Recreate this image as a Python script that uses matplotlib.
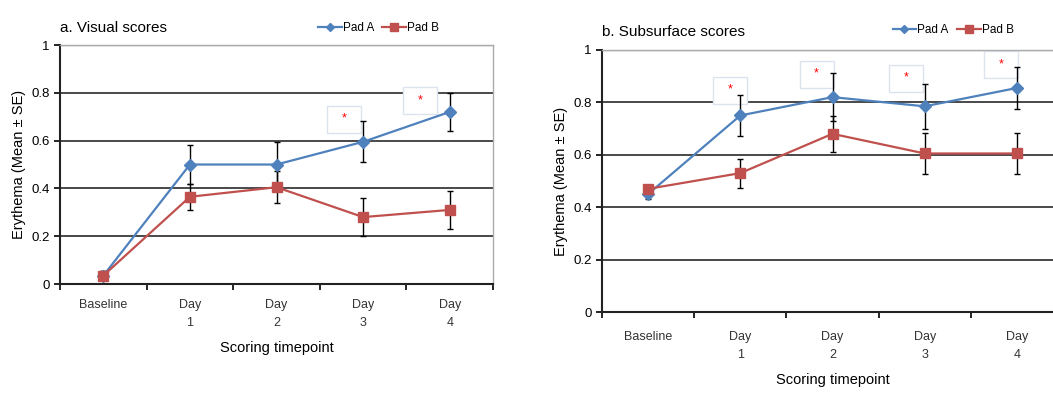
import matplotlib.pyplot as plt
import numpy as np

plt.rcParams['font.family'] = ['Liberation Sans', 'DejaVu Sans']

timepoints = ['Baseline', 'Day\n1', 'Day\n2', 'Day\n3', 'Day\n4']

# a. Visual scores
visual_a = [0.035, 0.50, 0.50, 0.595, 0.72]
visual_a_se = [0.02, 0.08, 0.095, 0.085, 0.08]
visual_b = [0.035, 0.365, 0.405, 0.28, 0.31]
visual_b_se = [0.02, 0.055, 0.068, 0.08, 0.078]
visual_stars = [(2.78, 0.69), (3.66, 0.766)]

# b. Subsurface scores
sub_a = [0.45, 0.75, 0.82, 0.785, 0.855]
sub_a_se = [0.02, 0.077, 0.092, 0.085, 0.08]
sub_b = [0.47, 0.53, 0.68, 0.605, 0.605]
sub_b_se = [0.015, 0.055, 0.068, 0.08, 0.078]
sub_stars = [(0.89, 0.847), (1.83, 0.908), (2.80, 0.893), (3.83, 0.943)]

BLUE = '#4F81BD'
RED = '#C0504D'


def draw_panel(ax, a, a_se, b, b_se, stars, title, leg_x, leg_y, xl_pad):
    x = np.arange(len(timepoints))
    for yv in [0.2, 0.4, 0.6, 0.8]:
        ax.axhline(yv, color='#3a3a3a', lw=1.3, zorder=0)
    ax.axhline(1.0, color='#aaaaaa', lw=1.0, zorder=0)
    ax.errorbar(x, a, yerr=a_se, color=BLUE, ecolor='black', elinewidth=1.0,
                capsize=2.5, capthick=1.0, marker='D', markersize=6, lw=1.6,
                label='Pad A', zorder=3)
    ax.errorbar(x, b, yerr=b_se, color=RED, ecolor='black', elinewidth=1.0,
                capsize=2.5, capthick=1.0, marker='s', markersize=7, lw=1.6,
                label='Pad B', zorder=3)
    for sx, sy in stars:
        ax.text(sx, sy, '  *  ', color='red', fontsize=9, ha='center', va='center',
                bbox=dict(boxstyle='square,pad=0.6', fc='white', ec='#dde3ee', lw=1.0),
                zorder=2)
    ax.set_xlim(-0.5, 4.5)
    ax.set_ylim(0, 1)
    ax.set_yticks([0, 0.2, 0.4, 0.6, 0.8, 1])
    ax.set_yticklabels(['0', '0.2', '0.4', '0.6', '0.8', '1'], fontsize=9.5)
    ax.set_xticks(np.arange(-0.5, 5, 1.0))
    ax.set_xticklabels([])
    ax.set_xticks(x, minor=True)
    ax.set_xticklabels(timepoints, minor=True, fontsize=9, color='#333333',
                       linespacing=1.6)
    ax.tick_params(axis='x', which='minor', length=0, pad=xl_pad)
    ax.tick_params(axis='x', which='major', length=4, width=1.2, direction='out')
    ax.tick_params(axis='y', length=4, width=1.2, direction='out')
    for s in ['left', 'bottom']:
        ax.spines[s].set_linewidth(1.5)
        ax.spines[s].set_color('#222222')
    for s in ['top', 'right']:
        ax.spines[s].set_color('#aaaaaa')
        ax.spines[s].set_linewidth(1.0)
    ax.set_ylabel('Erythema (Mean ± SE)', fontsize=10.5)
    ax.set_xlabel('Scoring timepoint', fontsize=10.5, labelpad=9)
    ax.set_title(title, fontsize=11, loc='left', x=0.0, y=1.02)
    handles, labels = ax.get_legend_handles_labels()
    handles = [h[0] for h in handles]
    ax.legend(handles, labels, ncol=2, frameon=False, fontsize=8.5,
              loc='lower left', bbox_to_anchor=(leg_x, leg_y),
              handlelength=2.0, handletextpad=0.1, columnspacing=0.7,
              borderaxespad=0, markerscale=0.75)


fig = plt.figure(figsize=(10.53, 3.97), dpi=100)
ax1 = fig.add_axes([0.057, 0.2846, 0.4112, 0.602])
ax2 = fig.add_axes([0.5717, 0.2141, 0.4378, 0.66])

draw_panel(ax1, visual_a, visual_a_se, visual_b, visual_b_se, visual_stars,
           'a. Visual scores', 0.585, 1.025, 11)
draw_panel(ax2, sub_a, sub_a_se, sub_b, sub_b_se, sub_stars,
           'b. Subsurface scores', 0.62, 1.035, 14)

fig.savefig('out.png', dpi=100)
